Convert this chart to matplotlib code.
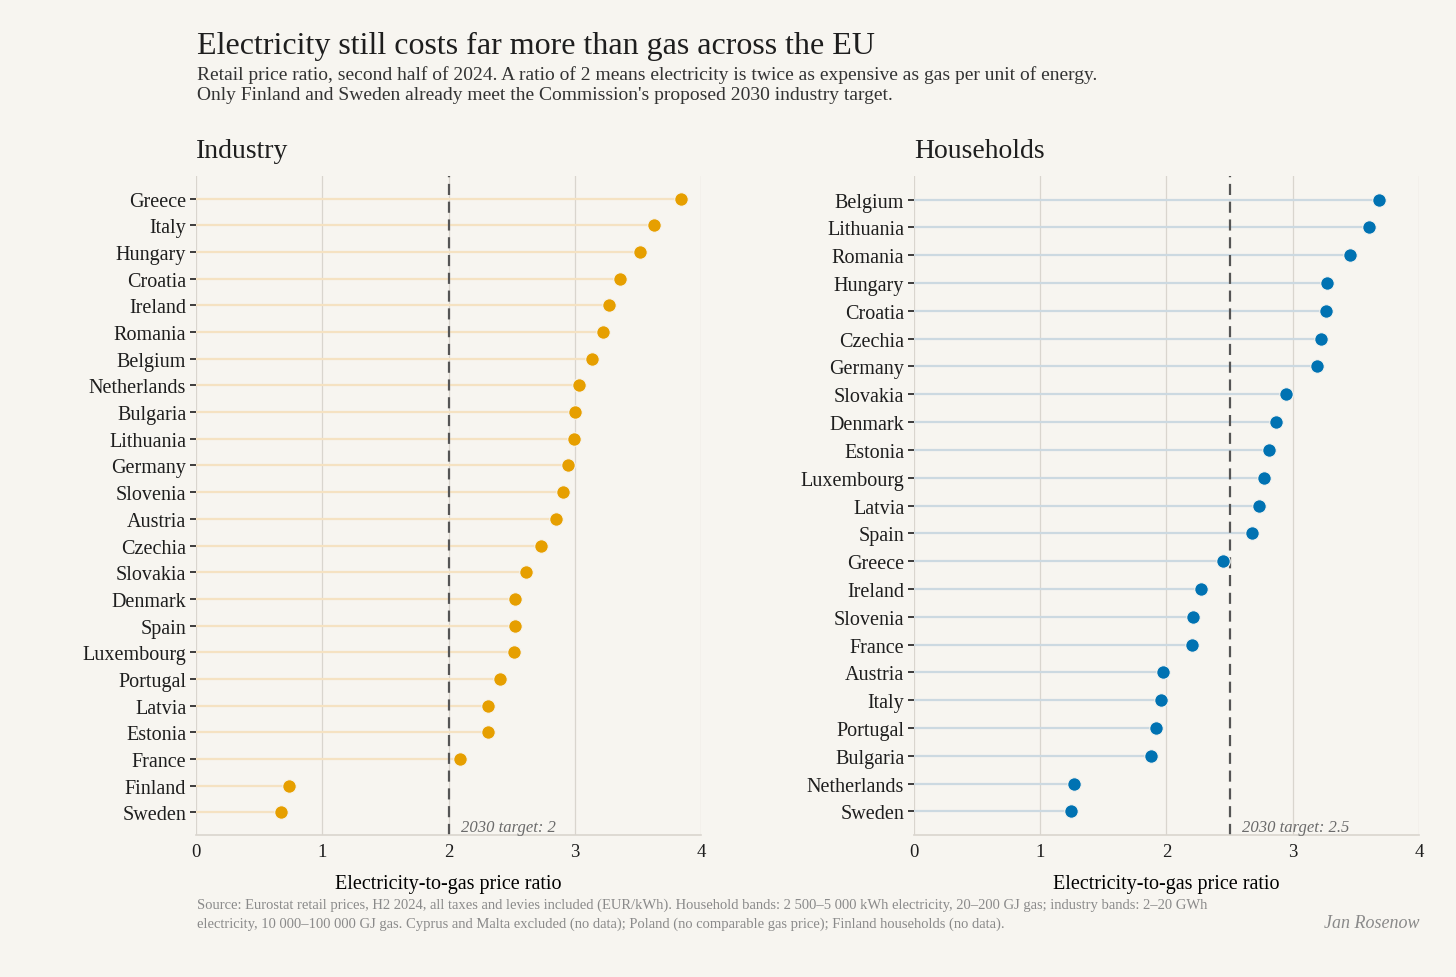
import matplotlib
matplotlib.use("Agg")
import matplotlib.pyplot as plt

BG = "#F7F5F0"; INK = "#1E1E1E"; MUTED = "#8A8A8A"; GRID = "#D9D5CE"
ORANGE = "#E69F00"; BLUE = "#0072B2"
plt.rcParams.update({"font.family": ["Liberation Serif", "DejaVu Serif"],
                     "text.color": INK, "xtick.color": INK, "ytick.color": INK})

ind_countries = ["Greece", "Italy", "Hungary", "Croatia", "Ireland", "Romania", "Belgium",
                 "Netherlands", "Bulgaria", "Lithuania", "Germany", "Slovenia", "Austria",
                 "Czechia", "Slovakia", "Denmark", "Spain", "Luxembourg", "Portugal",
                 "Latvia", "Estonia", "France", "Finland", "Sweden"]
ind_ratio = [3.84, 3.63, 3.52, 3.36, 3.27, 3.22, 3.14, 3.03, 3.00, 2.99, 2.95, 2.91, 2.85,
             2.73, 2.61, 2.53, 2.53, 2.52, 2.41, 2.31, 2.31, 2.09, 0.74, 0.67]

hh_countries = ["Belgium", "Lithuania", "Romania", "Hungary", "Croatia", "Czechia", "Germany",
                "Slovakia", "Denmark", "Estonia", "Luxembourg", "Latvia", "Spain", "Greece",
                "Ireland", "Slovenia", "France", "Austria", "Italy", "Portugal", "Bulgaria",
                "Netherlands", "Sweden"]
hh_ratio = [3.68, 3.60, 3.45, 3.27, 3.26, 3.22, 3.19, 2.95, 2.87, 2.81, 2.77, 2.73, 2.68, 2.45,
            2.27, 2.21, 2.20, 1.97, 1.96, 1.92, 1.88, 1.27, 1.24]

ind_target = 2.0
hh_target = 2.5

fig = plt.figure(figsize=(14.56, 9.78), dpi=100, facecolor=BG)
ax1 = fig.add_axes([0.1346, 0.1452, 0.3469, 0.6738])
ax2 = fig.add_axes([0.6277, 0.1452, 0.3469, 0.6738])


def lollipop(ax, names, vals, col, stem, target, title):
    ax.set_facecolor(BG)
    ys = list(range(len(names)))[::-1]
    ax.hlines(ys, 0, vals, color=stem, linewidth=1.6, zorder=1)
    ax.scatter(vals, ys, s=95, color=col, edgecolor=BG, linewidth=0.8, zorder=3)
    ax.axvline(target, color="#555555", linestyle=(0, (5, 3)), linewidth=1.6, zorder=2)
    ax.text(target + 0.1, -0.55, f"2030 target: {target:g}", style="italic", fontsize=12,
            color="#6B6B6B", va="center", ha="left")
    ax.set_yticks(ys)
    ax.set_yticklabels(names, fontsize=14.5)
    ax.set_xlim(0, 4)
    ax.set_ylim(-0.85, len(names) - 0.15)
    ax.set_xticks([0, 1, 2, 3, 4])
    ax.tick_params(axis="x", length=0, labelsize=13.5, pad=6)
    ax.tick_params(axis="y", length=4, width=1.2, color=INK, pad=3)
    ax.grid(axis="x", color=GRID, linewidth=0.9, zorder=0)
    ax.set_axisbelow(True)
    for s in ["top", "left", "right"]:
        ax.spines[s].set_visible(False)
    ax.spines["bottom"].set_color(GRID)
    ax.spines["bottom"].set_linewidth(1.2)
    ax.set_xlabel("Electricity-to-gas price ratio", fontsize=14.5, labelpad=10)
    ax.set_title(title, loc="left", fontsize=20, pad=14)


lollipop(ax1, ind_countries, ind_ratio, ORANGE, "#F5E2C2", ind_target, "Industry")
lollipop(ax2, hh_countries, hh_ratio, BLUE, "#CCD9E1", hh_target, "Households")

fig.text(0.1353, 0.952, "Electricity still costs far more than gas across the EU",
         fontsize=23, va="center", ha="left")
fig.text(0.1353, 0.913,
         "Retail price ratio, second half of 2024. A ratio of 2 means electricity is twice as expensive as gas per unit of energy.\n"
         "Only Finland and Sweden already meet the Commission's proposed 2030 industry target.",
         fontsize=14, va="center", ha="left", color="#333333", linespacing=1.3)
fig.text(0.1353, 0.0645,
         "Source: Eurostat retail prices, H2 2024, all taxes and levies included (EUR/kWh). Household bands: 2 500\u20135 000 kWh electricity, 20\u2013200 GJ gas; industry bands: 2\u201320 GWh\n"
         "electricity, 10 000\u2013100 000 GJ gas. Cyprus and Malta excluded (no data); Poland (no comparable gas price); Finland households (no data).",
         fontsize=10.5, va="center", ha="left", color=MUTED, linespacing=1.5)
fig.text(0.9746, 0.056, "Jan Rosenow", fontsize=13, style="italic", color=MUTED,
         va="center", ha="right")

fig.savefig("out.png", dpi=100, facecolor=BG)
